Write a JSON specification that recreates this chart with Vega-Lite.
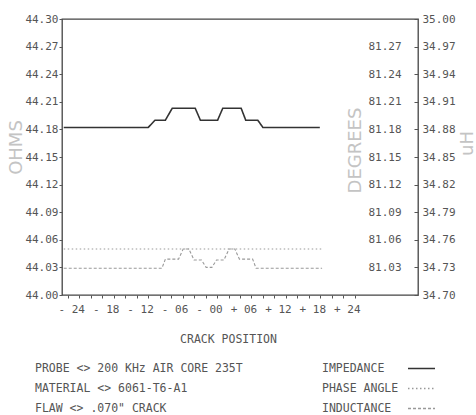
{
  "$schema": "https://vega.github.io/schema/vega-lite/v6.json",
  "width": 356,
  "height": 276,
  "autosize": {"type": "none"},
  "padding": {"left": 62, "top": 19, "right": 58, "bottom": 120},
  "background": "white",
  "config": {
    "view": {"stroke": "#444", "strokeWidth": 1.3},
    "font": "DejaVu Sans Mono",
    "axis": {
      "labelFont": "DejaVu Sans Mono",
      "labelFontSize": 11,
      "labelColor": "#555",
      "tickColor": "#555",
      "grid": false,
      "domain": false,
      "titleFont": "DejaVu Sans",
      "titleFontWeight": "normal"
    }
  },
  "title": {
    "text": ["PROBE <> 200 KHz AIR CORE 235T", "MATERIAL <> 6061-T6-A1", "FLAW <> .070\" CRACK"],
    "orient": "bottom",
    "anchor": "start",
    "frame": "group",
    "dx": -27,
    "offset": -51,
    "font": "DejaVu Sans Mono",
    "fontSize": 11.5,
    "fontWeight": "normal",
    "color": "#555",
    "lineHeight": 20
  },
  "layer": [
    {
      "data": {"values": [
        {"position": -25.3, "ohms": 44.182, "series": "IMPEDANCE"},
        {"position": -10.6, "ohms": 44.182, "series": "IMPEDANCE"},
        {"position": -9.4, "ohms": 44.19, "series": "IMPEDANCE"},
        {"position": -7.6, "ohms": 44.19, "series": "IMPEDANCE"},
        {"position": -6.4, "ohms": 44.203, "series": "IMPEDANCE"},
        {"position": -2.4, "ohms": 44.203, "series": "IMPEDANCE"},
        {"position": -1.5, "ohms": 44.19, "series": "IMPEDANCE"},
        {"position": 1.5, "ohms": 44.19, "series": "IMPEDANCE"},
        {"position": 2.4, "ohms": 44.203, "series": "IMPEDANCE"},
        {"position": 5.6, "ohms": 44.203, "series": "IMPEDANCE"},
        {"position": 6.4, "ohms": 44.19, "series": "IMPEDANCE"},
        {"position": 8.5, "ohms": 44.19, "series": "IMPEDANCE"},
        {"position": 9.4, "ohms": 44.182, "series": "IMPEDANCE"},
        {"position": 19.3, "ohms": 44.182, "series": "IMPEDANCE"}
      ]},
      "mark": {"type": "line", "strokeWidth": 1.6},
      "encoding": {
        "x": {
          "field": "position", "type": "quantitative",
          "scale": {"domain": [-25.6, 36.4], "nice": false, "zero": false},
          "axis": {
            "orient": "bottom",
            "values": [-24.6, -22.6, -20.6, -18.6, -16.6, -14.6, -12.6, -10.6, -8.6, -6.6, -4.6, -2.6, -0.6, 1.4, 3.4, 5.4, 7.4, 9.4, 11.4, 13.4, 15.4, 17.4, 19.4, 21.4, 23.4, 25.4],
            "labels": false, "ticks": true, "tickSize": 3, "title": null
          }
        },
        "y": {
          "field": "ohms", "type": "quantitative",
          "scale": {"domain": [44.0, 44.3], "nice": false, "zero": false},
          "axis": {
            "orient": "left",
            "values": [44.0, 44.03, 44.06, 44.09, 44.12, 44.15, 44.18, 44.21, 44.24, 44.27, 44.3],
            "format": ".2f", "tickSize": 3, "labelPadding": 1,
            "title": "OHMS", "titleColor": "#c4c4c4", "titleFontSize": 18,
            "titleAngle": -90, "titleX": -46, "titleY": 128,
            "titleBaseline": "middle", "titleAlign": "center"
          }
        },
        "color": {
          "field": "series", "type": "nominal",
          "scale": {"domain": ["IMPEDANCE", "PHASE ANGLE", "INDUCTANCE"], "range": ["#333333", "#999999", "#999999"]},
          "legend": {"title": null, "orient": "none", "legendX": 345, "legendY": 335, "symbolType": "stroke", "symbolSize": 729, "symbolStrokeWidth": 1.4, "labelFont": "DejaVu Sans Mono", "labelFontSize": 11.5, "labelColor": "#555", "labelAlign": "left", "labelOffset": -114, "rowPadding": -8, "padding": 0}
        },
        "strokeDash": {
          "field": "series", "type": "nominal",
          "scale": {"domain": ["IMPEDANCE", "PHASE ANGLE", "INDUCTANCE"], "range": [[1, 0], [1.5, 2.5], [3, 2]]},
          "legend": {"title": null, "orient": "none", "legendX": 345, "legendY": 335, "symbolType": "stroke", "symbolSize": 729, "symbolStrokeWidth": 1.4, "labelFont": "DejaVu Sans Mono", "labelFontSize": 11.5, "labelColor": "#555", "labelAlign": "left", "labelOffset": -114, "rowPadding": -8, "padding": 0}
        }
      }
    },
    {
      "data": {"values": [
        {"position": -25.3, "degrees": 81.05, "series": "PHASE ANGLE"},
        {"position": 19.7, "degrees": 81.05, "series": "PHASE ANGLE"}
      ]},
      "mark": {"type": "line", "strokeWidth": 1.1},
      "encoding": {
        "x": {
          "field": "position", "type": "quantitative",
          "scale": {"domain": [-25.6, 36.4], "nice": false, "zero": false},
          "axis": {
            "orient": "bottom",
            "values": [-24, -18, -12, -6, 0, 6, 12, 18, 24],
            "labelExpr": "(datum.value > 0 ? '+ ' : '- ') + format(abs(datum.value), '02d')",
            "ticks": false, "labelPadding": 8,
            "title": "CRACK POSITION", "titleFont": "DejaVu Sans Mono", "titleFontSize": 11.5, "titleColor": "#555",
            "titleX": 166, "titleY": 44, "titleBaseline": "middle", "titleAlign": "center"
          }
        },
        "y": {
          "field": "degrees", "type": "quantitative",
          "scale": {"domain": [81.0, 81.3], "nice": false, "zero": false},
          "axis": {
            "orient": "right", "offset": -52,
            "values": [81.03, 81.06, 81.09, 81.12, 81.15, 81.18, 81.21, 81.24, 81.27],
            "format": ".2f", "ticks": false, "labelPadding": 2,
            "title": "DEGREES", "titleColor": "#c4c4c4", "titleFontSize": 18,
            "titleAngle": -90, "titleX": -11, "titleY": 131,
            "titleBaseline": "middle", "titleAlign": "center"
          }
        },
        "color": {"field": "series", "type": "nominal"},
        "strokeDash": {"field": "series", "type": "nominal"}
      }
    },
    {
      "data": {"values": [
        {"position": -25.3, "microhenry": 34.729, "series": "INDUCTANCE"},
        {"position": -8.2, "microhenry": 34.729, "series": "INDUCTANCE"},
        {"position": -7.6, "microhenry": 34.739, "series": "INDUCTANCE"},
        {"position": -5.3, "microhenry": 34.739, "series": "INDUCTANCE"},
        {"position": -4.5, "microhenry": 34.75, "series": "INDUCTANCE"},
        {"position": -3.5, "microhenry": 34.75, "series": "INDUCTANCE"},
        {"position": -2.6, "microhenry": 34.738, "series": "INDUCTANCE"},
        {"position": -1.3, "microhenry": 34.738, "series": "INDUCTANCE"},
        {"position": -0.5, "microhenry": 34.73, "series": "INDUCTANCE"},
        {"position": 0.5, "microhenry": 34.73, "series": "INDUCTANCE"},
        {"position": 1.3, "microhenry": 34.738, "series": "INDUCTANCE"},
        {"position": 2.6, "microhenry": 34.738, "series": "INDUCTANCE"},
        {"position": 3.5, "microhenry": 34.75, "series": "INDUCTANCE"},
        {"position": 4.5, "microhenry": 34.75, "series": "INDUCTANCE"},
        {"position": 5.3, "microhenry": 34.739, "series": "INDUCTANCE"},
        {"position": 7.6, "microhenry": 34.739, "series": "INDUCTANCE"},
        {"position": 8.2, "microhenry": 34.729, "series": "INDUCTANCE"},
        {"position": 19.7, "microhenry": 34.729, "series": "INDUCTANCE"}
      ]},
      "mark": {"type": "line", "strokeWidth": 1.1},
      "encoding": {
        "x": {
          "field": "position", "type": "quantitative",
          "scale": {"domain": [-25.6, 36.4], "nice": false, "zero": false},
          "axis": null
        },
        "y": {
          "field": "microhenry", "type": "quantitative",
          "scale": {"domain": [34.7, 35.0], "nice": false, "zero": false},
          "axis": {
            "orient": "right",
            "values": [34.7, 34.73, 34.76, 34.79, 34.82, 34.85, 34.88, 34.91, 34.94, 34.97, 35.0],
            "format": ".2f", "tickSize": -4, "labelPadding": 8,
            "title": "uH", "titleColor": "#c4c4c4", "titleFontSize": 18,
            "titleAngle": -90, "titleX": 49, "titleY": 124,
            "titleBaseline": "middle", "titleAlign": "center"
          }
        },
        "color": {"field": "series", "type": "nominal"},
        "strokeDash": {"field": "series", "type": "nominal"}
      }
    }
  ],
  "resolve": {
    "scale": {"x": "independent", "y": "independent"},
    "axis": {"x": "independent", "y": "independent"}
  }
}
